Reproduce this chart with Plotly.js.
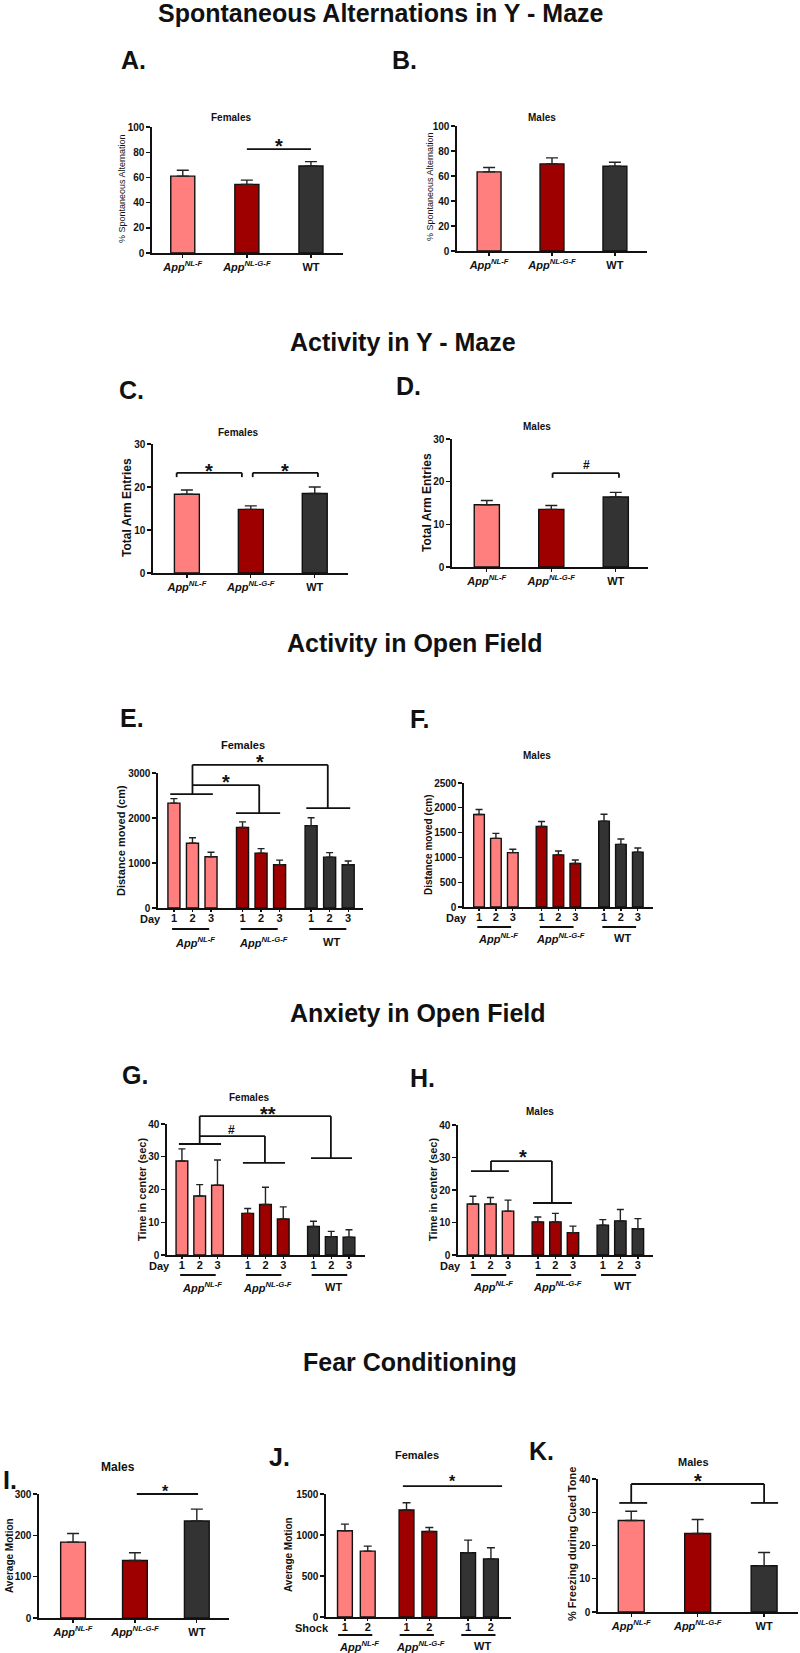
<!DOCTYPE html>
<html><head><meta charset="utf-8">
<script src="https://cdn.plot.ly/plotly-3.0.1.min.js"></script>
<style>html,body{margin:0;padding:0;background:#fff}</style>
</head><body><div id="chart" style="width:800px;height:1653px"></div>
<script>
// ---------------- data ----------------
const genotypes = ['<i>App</i><sup><i>NL-F</i></sup>', '<i>App</i><sup><i>NL-G-F</i></sup>', 'WT'];
const genotypeColors = ['#FF7F7F', '#9E0000', '#333333'];
const days = ['1', '2', '3'];
const shocks = ['1', '2'];

const spontAltFemalesMean = [61.0, 54.5, 69.0];
const spontAltFemalesSem  = [4.7, 3.3, 3.5];
const spontAltMalesMean   = [63.3, 69.7, 67.8];
const spontAltMalesSem    = [3.5, 4.8, 3.2];

const armEntriesFemalesMean = [18.3, 14.8, 18.5];
const armEntriesFemalesSem  = [1.0, 0.8, 1.5];
const armEntriesMalesMean   = [14.6, 13.5, 16.4];
const armEntriesMalesSem    = [1.0, 0.9, 1.1];

const distanceFemalesMean = [2330, 1440, 1140, 1790, 1220, 960, 1830, 1130, 960];
const distanceFemalesSem  = [100, 120, 100, 125, 100, 105, 175, 100, 85];
const distanceMalesMean   = [1865, 1384, 1096, 1624, 1050, 876, 1731, 1263, 1103];
const distanceMalesSem    = [100, 100, 67, 100, 80, 73, 140, 107, 87];

const centerFemalesMean = [28.7, 18.0, 21.3, 12.7, 15.4, 11.0, 8.7, 5.6, 5.4];
const centerFemalesSem  = [3.7, 3.5, 7.7, 1.5, 5.3, 3.7, 1.6, 1.6, 2.3];
const centerMalesMean   = [15.7, 15.7, 13.5, 10.2, 10.2, 6.9, 9.2, 10.5, 8.1];
const centerMalesSem    = [2.4, 2.0, 3.4, 1.5, 2.6, 2.0, 1.7, 3.5, 3.1];

const motionMalesMean = [183.6, 139, 234.5];
const motionMalesSem  = [21, 18.7, 29];
const shockMotionFemalesMean = [1052, 803, 1304, 1043, 783, 709];
const shockMotionFemalesSem  = [81, 61, 90, 49, 155, 135];
const freezingMalesMean = [27.5, 23.6, 13.9];
const freezingMalesSem  = [2.8, 4.2, 4.0];

const sectionTitles = ['Spontaneous Alternations in Y - Maze', 'Activity in Y - Maze',
  'Activity in Open Field', 'Anxiety in Open Field', 'Fear Conditioning'];

// ---------------- layout helpers ----------------
const FONT = 'Liberation Sans, Arial, sans-serif';
const W = 800, H = 1653;
const INK = '#111';
const axId = k => (k === 1 ? '' : String(k));
function groupedPositions(nGroups, perGroup, gap) {
  const p = [];
  for (let g = 0; g < nGroups; g++) for (let d = 0; d < perGroup; d++) p.push(g * gap + d);
  return p;
}
const pos3 = [0, 1, 2];
const posDays = groupedPositions(3, 3, 3.7);
const posShock = groupedPositions(3, 2, 2.7);
const dayColors = genotypeColors.flatMap(c => [c, c, c]);
const shockColors = genotypeColors.flatMap(c => [c, c]);
const dayTicks = days.concat(days, days);
const shockTicks = shocks.concat(shocks, shocks);

const panels = [
  {k:1, x:pos3, y:spontAltFemalesMean, e:spontAltFemalesSem, c:genotypeColors, tt:genotypes,
   px:[152,343], py:[127,253], xr:[-0.48,2.5], yr:[0,100], dtick:20, bw:0.375, cap:6,
   ytitle:{t:'% Spontaneous Alternation', x:122, y:189, s:9, b:false},
   sub:{t:'Females', x:231, y:117, s:10}, letter:{t:'A.', x:119, y:60},
   lines:[[[1,82.5],[2,82.5]]], sig:[['*',1.5,88,20]]},
  {k:2, x:pos3, y:spontAltMalesMean, e:spontAltMalesSem, c:genotypeColors, tt:genotypes,
   px:[457,647], py:[126,251], xr:[-0.51,2.51], yr:[0,100], dtick:20, bw:0.38, cap:6,
   ytitle:{t:'% Spontaneous Alternation', x:430, y:187, s:9, b:false},
   sub:{t:'Males', x:542, y:117, s:10}, letter:{t:'B.', x:390, y:60},
   lines:[], sig:[]},
  {k:3, x:pos3, y:armEntriesFemalesMean, e:armEntriesFemalesSem, c:genotypeColors, tt:genotypes,
   px:[153,348], py:[444,573], xr:[-0.53,2.52], yr:[0,30], dtick:10, bw:0.39, cap:6,
   ytitle:{t:'Total Arm Entries', x:127, y:508, s:12, b:true},
   sub:{t:'Females', x:238, y:432, s:10}, letter:{t:'C.', x:117, y:390},
   lines:[[[-0.16,22.3],[-0.16,23.3],[0.86,23.3],[0.86,22.3]],[[1.03,22.3],[1.03,23.3],[2.05,23.3],[2.05,22.3]]],
   sig:[['*',0.35,24.65,20],['*',1.54,24.65,20]]},
  {k:4, x:pos3, y:armEntriesMalesMean, e:armEntriesMalesSem, c:genotypeColors, tt:genotypes,
   px:[452,648], py:[439,567], xr:[-0.54,2.5], yr:[0,30], dtick:10, bw:0.39, cap:6,
   ytitle:{t:'Total Arm Entries', x:427, y:502, s:12, b:true},
   sub:{t:'Males', x:537, y:426, s:10}, letter:{t:'D.', x:394, y:386},
   lines:[[[1.02,20.9],[1.02,22.0],[2.05,22.0],[2.05,20.9]]], sig:[['#',1.55,23.9,12]]},
  {k:5, x:posDays, y:distanceFemalesMean, e:distanceFemalesSem, c:dayColors, tt:dayTicks, grouped:3, lead:'Day', ul:[21,34],
   px:[158,363], py:[773,908], xr:[-0.86,10.2], yr:[0,3000], dtick:1000, bw:0.65, cap:3.5,
   ytitle:{t:'Distance moved (cm)', x:121, y:841, s:11, b:true},
   sub:{t:'Females', x:243, y:745, s:11}, letter:{t:'E.', x:118, y:718},
   lines:[[[-0.2,2530],[2.1,2530]],[[3.35,2110],[5.73,2110]],[[7.14,2220],[9.51,2220]],
          [[1,2530],[1,3180],[8.3,3180],[8.3,2220]],[[1,2730],[4.6,2730],[4.6,2110]]],
   sig:[['*',2.8,2889,20],['*',4.65,3333,20]]},
  {k:6, x:posDays, y:distanceMalesMean, e:distanceMalesSem, c:dayColors, tt:dayTicks, grouped:3, lead:'Day', ul:[20,31],
   px:[464,653], py:[783,907], xr:[-0.89,10.3], yr:[0,2500], dtick:500, bw:0.63, cap:3.5,
   ytitle:{t:'Distance moved (cm)', x:428, y:845, s:10, b:true},
   sub:{t:'Males', x:537, y:756, s:10}, letter:{t:'F.', x:408, y:719},
   lines:[], sig:[]},
  {k:7, x:posDays, y:centerFemalesMean, e:centerFemalesSem, c:dayColors, tt:dayTicks, grouped:3, lead:'Day', ul:[20,32],
   px:[167,365], py:[1124,1255], xr:[-0.84,10.3], yr:[0,40], dtick:10, bw:0.66, cap:3.5,
   ytitle:{t:'Time in center (sec)', x:142, y:1190, s:11, b:true},
   sub:{t:'Females', x:249, y:1097, s:10}, letter:{t:'G.', x:120, y:1075},
   lines:[[[-0.17,33.9],[2.2,33.9]],[[3.43,28.1],[5.8,28.1]],[[7.26,29.6],[9.57,29.6]],
          [[1,33.9],[1,42.4],[8.38,42.4],[8.38,29.6]],[[1,36.3],[4.67,36.3],[4.67,28.1]]],
   sig:[['#',2.81,38.2,12],['**',4.84,44.3,20]]},
  {k:8, x:posDays, y:centerMalesMean, e:centerMalesSem, c:dayColors, tt:dayTicks, grouped:3, lead:'Day', ul:[20,31],
   px:[458,653], py:[1125,1255], xr:[-0.85,10.26], yr:[0,40], dtick:10, bw:0.65, cap:3.5,
   ytitle:{t:'Time in center (sec)', x:433, y:1190, s:11, b:true},
   sub:{t:'Males', x:540, y:1111, s:10}, letter:{t:'H.', x:408, y:1078},
   lines:[[[-0.11,25.8],[2.05,25.8]],[[3.42,16.0],[5.64,16.0]],[[1.03,25.8],[1.03,28.9],[4.5,28.9],[4.5,16.0]]],
   sig:[['*',2.85,31.4,20]]},
  {k:9, x:pos3, y:motionMalesMean, e:motionMalesSem, c:genotypeColors, tt:genotypes,
   px:[39,229], py:[1494,1618], xr:[-0.55,2.52], yr:[0,300], dtick:100, bw:0.4, cap:6,
   ytitle:{t:'Average Motion', x:9, y:1556, s:10, b:true},
   sub:{t:'Males', x:118, y:1467, s:12}, letter:{t:'I.', x:1, y:1480},
   lines:[[[1.03,300],[2.02,300]]], sig:[['*',1.5,314.5,16]]},
  {k:10, x:posShock, y:shockMotionFemalesMean, e:shockMotionFemalesSem, c:shockColors, tt:shockTicks, grouped:2, lead:'Shock', ul:[18,29],
   px:[326,511], py:[1494,1617], xr:[-0.83,7.28], yr:[0,1500], dtick:500, bw:0.65, cap:4,
   ytitle:{t:'Average Motion', x:288, y:1555, s:10, b:true},
   sub:{t:'Females', x:417, y:1455, s:11}, letter:{t:'J.', x:267, y:1457},
   lines:[[[2.54,1597],[6.89,1597]]], sig:[['*',4.7,1683,16]]},
  {k:11, x:pos3, y:freezingMalesMean, e:freezingMalesSem, c:genotypeColors, tt:genotypes,
   px:[598,798], py:[1479,1612], xr:[-0.5,2.51], yr:[0,40], dtick:10, bw:0.39, cap:6,
   ytitle:{t:'% Freezing during Cued Tone', x:572, y:1544, s:11, b:true},
   sub:{t:'Males', x:693, y:1462, s:11}, letter:{t:'K.', x:527, y:1451},
   lines:[[[-0.18,32.8],[0.24,32.8]],[[1.8,32.8],[2.21,32.8]],[[0,32.8],[0,38.5],[2,38.5],[2,32.8]]],
   sig:[['*',1,40.6,20]]}
];
const sectionPos = [[381,13],[403,342],[415,643],[418,1013],[410,1362]];

const traces = [], shapes = [], annotations = [];
const layout = {
  width: W, height: H, margin: {l:0, r:0, t:0, b:0}, showlegend: false,
  paper_bgcolor: '#fff', plot_bgcolor: 'rgba(0,0,0,0)',
  font: {family: FONT, color: INK, size: 11}, shapes, annotations
};
const fx = (p, v) => (v - p.xr[0]) / (p.xr[1] - p.xr[0]);
const fy = (p, v) => (v - p.yr[0]) / (p.yr[1] - p.yr[0]);
const xd = p => 'x' + axId(p.k) + ' domain';
const yd = p => 'y' + axId(p.k) + ' domain';
const paperX = px => px / W;
const paperY = py => 1 - py / H;

function textAnn(t, x, y, size, bold, extra) {
  annotations.push(Object.assign({
    text: t, xref: 'paper', yref: 'paper', x: paperX(x), y: paperY(y),
    showarrow: false, xanchor: 'center', yanchor: 'middle',
    font: {family: FONT, size: size, color: INK, weight: bold ? 'bold' : 'normal'}
  }, extra || {}));
}

sectionTitles.forEach((t, i) => textAnn(t, sectionPos[i][0], sectionPos[i][1], 25, true));

panels.forEach(p => {
  const id = axId(p.k);
  traces.push({
    type: 'bar', x: p.x, y: p.y, width: p.bw, xaxis: 'x' + id, yaxis: 'y' + id,
    marker: {color: p.c, line: {color: INK, width: 1.4}},
    error_y: {type: 'data', symmetric: false, array: p.e, arrayminus: p.e.map(() => 0),
              color: '#222', thickness: 1.4, width: p.cap},
    hoverinfo: 'skip', showlegend: false
  });
  layout['xaxis' + id] = {
    domain: [p.px[0] / W, p.px[1] / W], range: p.xr, anchor: 'y' + id,
    tickmode: 'array', tickvals: p.x, ticktext: p.tt,
    ticks: 'outside', ticklen: p.grouped ? 2 : 3, tickwidth: 1.3, tickcolor: INK,
    ticklabelstandoff: p.grouped ? -3 : 0,
    showline: true, linecolor: INK, linewidth: 1.6, showgrid: false, zeroline: false,
    tickfont: {family: FONT, size: 11, color: INK, weight: 'bold'},
    fixedrange: true
  };
  layout['yaxis' + id] = {
    domain: [1 - p.py[1] / H, 1 - p.py[0] / H], range: p.yr, anchor: 'x' + id,
    tick0: 0, dtick: p.dtick, ticks: 'outside', ticklen: 4, tickwidth: 1.4, tickcolor: INK,
    showline: true, linecolor: INK, linewidth: 1.6, showgrid: false, zeroline: false,
    tickfont: {family: FONT, size: 10, color: INK, weight: 'bold'},
    fixedrange: true
  };
  // titles / letters
  textAnn(p.ytitle.t, p.ytitle.x, p.ytitle.y, p.ytitle.s, p.ytitle.b, {textangle: -90});
  textAnn(p.sub.t, p.sub.x, p.sub.y, p.sub.s, true);
  textAnn(p.letter.t, p.letter.x, p.letter.y, 25, true, {xanchor: 'left'});
  // significance brackets
  p.lines.forEach(pts => {
    for (let i = 0; i < pts.length - 1; i++) {
      shapes.push({type: 'line', xref: xd(p), yref: yd(p),
        x0: fx(p, pts[i][0]), y0: fy(p, pts[i][1]), x1: fx(p, pts[i + 1][0]), y1: fy(p, pts[i + 1][1]),
        line: {color: INK, width: 1.8}});
    }
  });
  p.sig.forEach(s => {
    annotations.push({text: s[0], xref: xd(p), yref: yd(p), x: fx(p, s[1]), y: fy(p, s[2]),
      showarrow: false, xanchor: 'center', yanchor: 'middle',
      yshift: s[0] === '#' ? 0 : -Math.round(0.2 * s[3]),
      font: {family: FONT, size: s[3], color: INK, weight: 'bold'}});
  });
  // grouped x-axis decorations
  if (p.grouped) {
    const n = p.grouped;
    const hpx = p.py[1] - p.py[0];
    for (let g = 0; g < 3; g++) {
      const first = p.x[g * n], last = p.x[g * n + n - 1];
      const a = n === 3 ? first - 0.1 : first - 0.3, b = n === 3 ? last - 0.1 : last + 0.2;
      shapes.push({type: 'line', xref: xd(p), yref: yd(p), x0: fx(p, a), x1: fx(p, b),
        y0: -p.ul[0] / hpx, y1: -p.ul[0] / hpx, line: {color: INK, width: 1.8}});
      annotations.push({text: genotypes[g], xref: xd(p), yref: yd(p),
        x: fx(p, (first + last) / 2 + 0.12), y: -p.ul[1] / hpx, showarrow: false,
        xanchor: 'center', yanchor: 'middle',
        font: {family: FONT, size: 11, color: INK, weight: 'bold'}});
    }
    annotations.push({text: p.lead, xref: xd(p), yref: yd(p), x: 0, y: 0,
      xshift: 5, yshift: -11, showarrow: false, xanchor: 'right', yanchor: 'middle',
      font: {family: FONT, size: 11, color: INK, weight: 'bold'}});
  }
});

Plotly.newPlot('chart', traces, layout, {staticPlot: true, displayModeBar: false});
</script>
</body></html>
